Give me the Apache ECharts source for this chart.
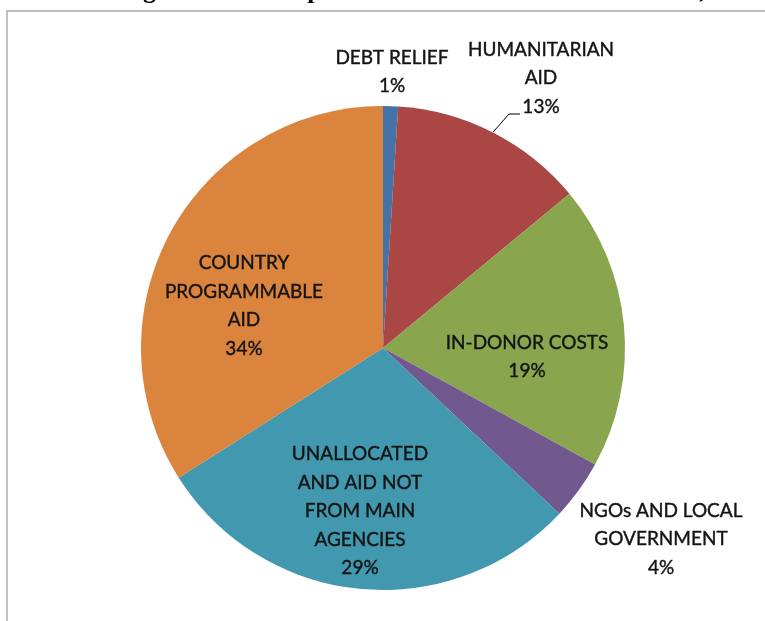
<!DOCTYPE html>
<html>
<head>
<meta charset="utf-8">
<title>Composition of Canada's bilateral ODA</title>
<script src="https://cdn.jsdelivr.net/npm/echarts@6/dist/echarts.min.js"></script>
<style>
  html, body { margin: 0; padding: 0; background: #fff; }
  #chart { width: 765px; height: 621px; }
</style>
</head>
<body>
<div id="chart"></div>
<script>
// Slices, clockwise from 12 o'clock
const categories = [
  'DEBT RELIEF',
  'HUMANITARIAN AID',
  'IN-DONOR COSTS',
  'NGOs AND LOCAL GOVERNMENT',
  'UNALLOCATED AND AID NOT FROM MAIN AGENCIES',
  'COUNTRY PROGRAMMABLE AID'
];
// Wrapped label text for each slice
const labelLines = [
  'DEBT RELIEF',
  'HUMANITARIAN\nAID',
  'IN-DONOR COSTS',
  'NGOs AND LOCAL\nGOVERNMENT',
  'UNALLOCATED\nAND AID NOT\nFROM MAIN\nAGENCIES',
  'COUNTRY\nPROGRAMMABLE\nAID'
];
// Share of bilateral ODA, percent
const shares = [1, 13, 19, 4, 29, 34];

const sliceColors = ['#4572A7', '#AA4643', '#89A54E', '#71588F', '#4198AF', '#DB843D'];
const outsideLabels = [0, 1, 3];
// Label block centres
const labelSpots = [[392, 72], [541, 78], [527, 357], [661, 539], [360, 511], [244, 306]];

const chart = echarts.init(document.getElementById('chart'), null, { renderer: 'canvas' });

const seriesData = categories.map((name, i) => {
  const outside = outsideLabels.indexOf(i) >= 0;
  return {
    name: name,
    value: shares[i],
    itemStyle: { color: sliceColors[i] },
    label: { position: outside ? 'outside' : 'inside' },
    labelLine: { show: i === 1 }
  };
});

chart.setOption({
  animation: false,
  backgroundColor: '#ffffff',
  graphic: [
    {
      type: 'text',
      left: 120,
      top: -22,
      style: {
        text: 'Figure 3.3:  Composition of Canada\u2019s bilateral ODA, 2010',
        font: 'bold 26px "Liberation Serif", serif',
        fill: '#000'
      }
    },
    {
      type: 'polyline',
      shape: { points: [[7, 621], [7, 11], [765, 11]] },
      style: { stroke: '#c0c0c0', lineWidth: 2, fill: null }
    }
  ],
  series: [{
    type: 'pie',
    center: [383, 348],
    radius: 242,
    startAngle: 90,
    clockwise: true,
    avoidLabelOverlap: false,
    data: seriesData,
    itemStyle: { borderWidth: 0 },
    label: {
      formatter: p => labelLines[p.dataIndex] + '\n' + p.value + '%',
      fontFamily: 'Lato',
      fontSize: 19,
      lineHeight: 28.5,
      color: '#141414',
      textBorderColor: '#141414',
      textBorderWidth: 0.4,
      align: 'center'
    },
    labelLine: {
      lineStyle: { color: '#000', width: 1 },
      length: 20,
      length2: 12
    },
    labelLayout: function (p) {
      const spot = labelSpots[p.dataIndex];
      const out = { x: spot[0], y: spot[1], align: 'center', verticalAlign: 'middle' };
      if (p.dataIndex === 1 && p.labelLinePoints) {
        const a = p.labelLinePoints[0];
        out.labelLinePoints = [[a[0], a[1]], [509, 114], [520, 114]];
      }
      return out;
    }
  }]
});
</script>
</body>
</html>
